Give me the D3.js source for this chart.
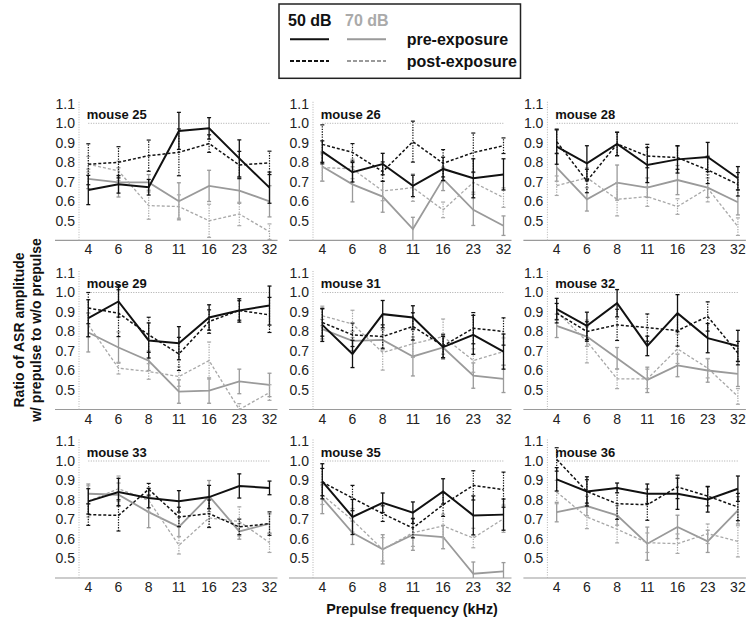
<!DOCTYPE html>
<html><head><meta charset="utf-8">
<script src="https://cdn.jsdelivr.net/npm/d3@7"></script>
<style>body{margin:0;background:#fff}svg{display:block;font-family:Arial,"Liberation Sans",sans-serif}</style>
</head><body><svg id="c" width="750" height="628"></svg>
<script>
const freqs = ["4","6","8","11","16","23","32"];
const mice = ["mouse 25","mouse 26","mouse 28","mouse 29","mouse 31","mouse 32","mouse 33","mouse 35","mouse 36"];
const yTicks = [0.5,0.6,0.7,0.8,0.9,1.0,1.1];
const pre50 = [
 [0.658,0.687,0.672,0.961,0.974,0.82,0.67],
 [0.855,0.749,0.791,0.679,0.766,0.718,0.738],
 [0.88,0.795,0.894,0.786,0.815,0.827,0.718],
 [0.868,0.954,0.754,0.74,0.872,0.908,0.933],
 [0.834,0.685,0.889,0.872,0.72,0.783,0.697],
 [0.915,0.829,0.945,0.726,0.894,0.766,0.726],
 [0.793,0.841,0.81,0.793,0.815,0.872,0.862],
 [0.896,0.713,0.786,0.735,0.844,0.721,0.725],
 [0.906,0.844,0.862,0.832,0.832,0.803,0.858]];
const pre50Err = [
 [0.075,0.045,0.04,0.095,0.055,0.095,0.08],
 [0.055,0.05,0.055,0.055,0.06,0.1,0.08],
 [0.09,0.09,0.06,0.09,0.07,0.075,0.06],
 [0.095,0.08,0.09,0.085,0.065,0.06,0.1],
 [0.085,0.07,0.07,0.06,0.055,0.1,0.09],
 [0.055,0.07,0.07,0.05,0.095,0.075,0.08],
 [0.065,0.07,0.05,0.055,0.06,0.062,0.035],
 [0.09,0.09,0.05,0.055,0.065,0.1,0.08],
 [0.06,0.075,0.025,0.05,0.08,0.065,0.065]];
const post50 = [
 [0.79,0.80,0.834,0.851,0.896,0.786,0.797],
 [0.892,0.851,0.752,0.906,0.795,0.85,0.885],
 [0.906,0.704,0.894,0.832,0.824,0.761,0.687],
 [0.92,0.894,0.783,0.685,0.851,0.908,0.885],
 [0.846,0.783,0.774,0.826,0.726,0.817,0.80],
 [0.894,0.80,0.834,0.82,0.805,0.877,0.689],
 [0.725,0.721,0.855,0.713,0.73,0.662,0.679],
 [0.892,0.81,0.73,0.656,0.776,0.875,0.853],
 [1.008,0.844,0.781,0.776,0.867,0.82,0.764]];
const post50Err = [
 [0.105,0.08,0.08,0.12,0.045,0.07,0.06],
 [0.1,0.045,0.05,0.105,0.07,0.1,0.04],
 [0.06,0.06,0.06,0.06,0.06,0.07,0.06],
 [0.08,0.12,0.09,0.085,0.06,0.05,0.09],
 [0.07,0.06,0.06,0.07,0.06,0.08,0.07],
 [0.05,0.05,0.08,0.07,0.08,0.075,0.06],
 [0.055,0.08,0.03,0.05,0.07,0.04,0.06],
 [0.07,0.065,0.04,0.05,0.06,0.075,0.09],
 [0.06,0.06,0.08,0.08,0.06,0.05,0.07]];
const pre70 = [
 [0.715,0.697,0.697,0.60,0.679,0.655,0.60],
 [0.778,0.687,0.624,0.458,0.715,0.556,0.475],
 [0.773,0.61,0.696,0.67,0.709,0.67,0.595],
 [0.795,0.718,0.65,0.492,0.497,0.544,0.526],
 [0.812,0.752,0.757,0.672,0.718,0.574,0.557],
 [0.829,0.774,0.663,0.552,0.626,0.60,0.583],
 [0.832,0.827,0.738,0.662,0.82,0.639,0.679],
 [0.81,0.632,0.547,0.622,0.61,0.422,0.434],
 [0.738,0.769,0.721,0.576,0.662,0.588,0.747]];
const pre70Err = [
 [0.05,0.075,0.04,0.095,0.08,0.065,0.08],
 [0.075,0.09,0.08,0.06,0.06,0.08,0.05],
 [0.07,0.06,0.09,0.05,0.075,0.05,0.065],
 [0.1,0.08,0.05,0.06,0.065,0.063,0.06],
 [0.05,0.05,0.05,0.1,0.06,0.065,0.07],
 [0.06,0.05,0.055,0.065,0.058,0.06,0.065],
 [0.05,0.06,0.08,0.05,0.08,0.04,0.05],
 [0.08,0.06,0.075,0.08,0.06,0.06,0.045],
 [0.05,0.05,0.05,0.085,0.06,0.057,0.07]];
const post70 = [
 [0.79,0.756,0.578,0.573,0.50,0.535,0.444],
 [0.773,0.766,0.653,0.67,0.556,0.697,0.619],
 [0.68,0.721,0.61,0.624,0.573,0.667,0.47],
 [0.834,0.612,0.595,0.569,0.651,0.40,0.487],
 [0.88,0.839,0.692,0.737,0.774,0.651,0.697],
 [0.903,0.749,0.557,0.557,0.711,0.612,0.467],
 [0.793,0.858,0.798,0.568,0.708,0.69,0.581],
 [0.827,0.696,0.547,0.632,0.667,0.605,0.704],
 [0.841,0.713,0.65,0.581,0.576,0.627,0.588]];
const post70Err = [
 [0.04,0.05,0.07,0.06,0.085,0.06,0.04],
 [0.07,0.05,0.05,0.07,0.04,0.05,0.05],
 [0.05,0.05,0.085,0.05,0.04,0.07,0.045],
 [0.06,0.03,0.04,0.05,0.095,0.03,0.04],
 [0.05,0.07,0.09,0.07,0.09,0.06,0.07],
 [0.04,0.11,0.05,0.05,0.075,0.05,0.04],
 [0.08,0.065,0.06,0.045,0.05,0.075,0.05],
 [0.05,0.06,0.06,0.07,0.06,0.05,0.07],
 [0.06,0.06,0.07,0.05,0.05,0.05,0.08]];

const svg = d3.select("#c");
const colX4 = [88.3, 322.3, 556.7];
const rowY10 = [123.3, 292.5, 461];
const unit = 195;

const series = [
  {vals: pre70, err: pre70Err, color: "#9a9a9a", w: 1.8, dash: null, ebDash: null},
  {vals: post70, err: post70Err, color: "#a8a8a8", w: 1.3, dash: "3,2", ebDash: "1.3,1.3"},
  {vals: post50, err: post50Err, color: "#111", w: 1.5, dash: "3,2", ebDash: "1.3,1.3"},
  {vals: pre50, err: pre50Err, color: "#111", w: 2, dash: null, ebDash: null}
];

mice.forEach((name, i) => {
  const col = i % 3, row = Math.floor(i / 3);
  const x4 = colX4[col];
  const x = d3.scalePoint().domain(freqs).range([x4, x4 + 181.2]);
  const y = d3.scaleLinear().domain([0.4, 1.1]).range([rowY10[row] + 0.6 * unit, rowY10[row] - 0.1 * unit]).clamp(true);
  const yAxX = x4 - 9.3;
  const g = svg.append("g");

  // x axis line
  g.append("line").attr("x1", yAxX - 24).attr("x2", x("32") + 8)
    .attr("y1", y(0.4)).attr("y2", y(0.4)).attr("stroke", "#9a9a9a").attr("stroke-width", 1.2);
  // y axis dotted
  g.append("line").attr("x1", yAxX).attr("x2", yAxX).attr("y1", y(1.1) - 2).attr("y2", y(0.4))
    .attr("stroke", "#b5b5b5").attr("stroke-width", 1).attr("stroke-dasharray", "1,1.5");
  g.selectAll(".yt").data(yTicks).join("text")
    .attr("x", yAxX - 4).attr("y", d => y(d)).attr("dy", "0.35em")
    .attr("text-anchor", "end").attr("font-size", 14).attr("fill", "#222")
    .text(d => d.toFixed(1));
  g.selectAll(".xt").data(freqs).join("text")
    .attr("x", d => x(d)).attr("y", y(0.4) + 14)
    .attr("text-anchor", "middle").attr("font-size", 14).attr("fill", "#222")
    .text(d => d);
  // reference line at 1.0
  g.append("line").attr("x1", x("4")).attr("x2", x("32")).attr("y1", y(1.0)).attr("y2", y(1.0))
    .attr("stroke", "#aaa").attr("stroke-width", 1).attr("stroke-dasharray", "1,1.5");
  g.append("text").attr("x", x("4") - 1.5).attr("y", y(1.05) + 5.5)
    .attr("font-size", 13).attr("font-weight", "bold").attr("fill", "#111").text(name);

  const line = d3.line().x((d, k) => x(freqs[k])).y(d => y(d));
  series.forEach(s => {
    const v = s.vals[i], e = s.err[i];
    const eb = g.append("g").attr("stroke", s.color).attr("stroke-width", s.ebDash ? 1.2 : 1.3);
    freqs.forEach((f, k) => {
      const lo = y(v[k] - e[k]), hi = y(v[k] + e[k]);
      eb.append("line").attr("x1", x(f)).attr("x2", x(f)).attr("y1", lo).attr("y2", hi)
        .attr("stroke-dasharray", s.ebDash);
      if (v[k] - e[k] >= 0.4) eb.append("line").attr("x1", x(f) - 2).attr("x2", x(f) + 2).attr("y1", lo).attr("y2", lo);
      if (v[k] + e[k] <= 1.1) eb.append("line").attr("x1", x(f) - 2).attr("x2", x(f) + 2).attr("y1", hi).attr("y2", hi);
    });
    g.append("path").attr("d", line(v)).attr("fill", "none").attr("stroke", s.color)
      .attr("stroke-width", s.w).attr("stroke-dasharray", s.dash);
  });
});

// axis titles
svg.append("text").attr("x", 412).attr("y", 614).attr("text-anchor", "middle")
  .attr("font-size", 14.3).attr("font-weight", "bold").attr("fill", "#111").text("Prepulse frequency (kHz)");
const yl = svg.append("text").attr("transform", "translate(0,330) rotate(-90)")
  .attr("text-anchor", "middle").attr("font-size", 14).attr("font-weight", "bold").attr("fill", "#111");
yl.append("tspan").attr("x", 0).attr("y", 24).text("Ratio of ASR amplitude");
yl.append("tspan").attr("x", 0).attr("y", 40.5).text("w/ prepulse to w/o prepulse");

// legend
const lg = svg.append("g");
lg.append("rect").attr("x", 279).attr("y", 4).attr("width", 241.5).attr("height", 74.3)
  .attr("fill", "#fff").attr("stroke", "#222").attr("stroke-width", 1.5);
const legCols = [{label: "50 dB", color: "#111", x: 288, lc: "#111"}, {label: "70 dB", color: "#aaa", x: 345, lc: "#9a9a9a"}];
legCols.forEach(c => {
  lg.append("text").attr("x", c.x).attr("y", 26).attr("font-size", 16).attr("font-weight", "bold")
    .attr("fill", c.color).text(c.label);
  lg.append("line").attr("x1", c.x + 2).attr("x2", c.x + 41).attr("y1", 39.3).attr("y2", 39.3)
    .attr("stroke", c.lc).attr("stroke-width", 2);
  lg.append("line").attr("x1", c.x + 2).attr("x2", c.x + 41).attr("y1", 61).attr("y2", 61)
    .attr("stroke", c.lc).attr("stroke-width", 1.8).attr("stroke-dasharray", "4,2");
});
lg.append("text").attr("x", 406.7).attr("y", 44.5).attr("font-size", 16).attr("font-weight", "bold").attr("fill", "#111").text("pre-exposure");
lg.append("text").attr("x", 406.7).attr("y", 66.5).attr("font-size", 16).attr("font-weight", "bold").attr("fill", "#111").text("post-exposure");
</script></body></html>
